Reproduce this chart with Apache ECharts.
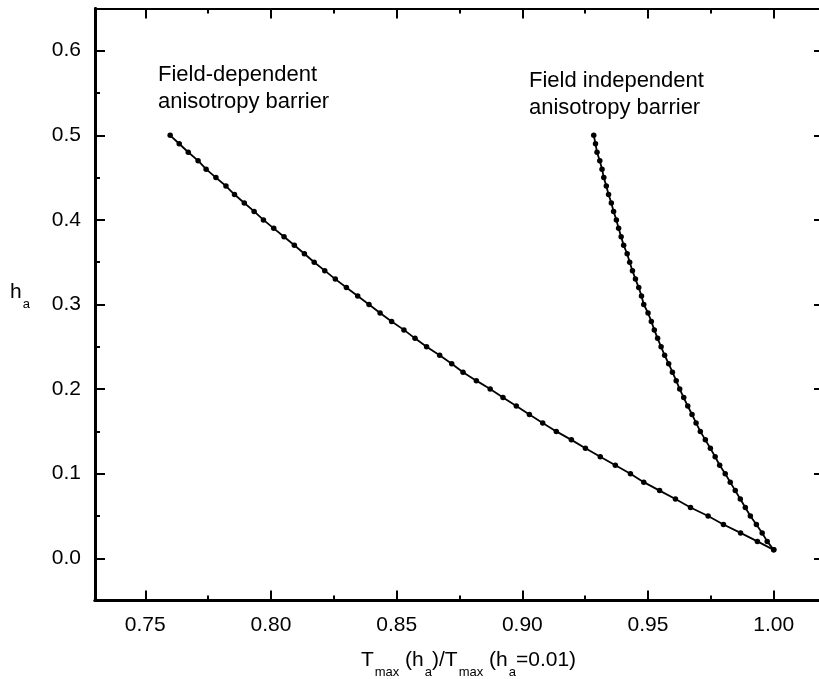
<!DOCTYPE html>
<html>
<head>
<meta charset="utf-8">
<script src="https://cdn.jsdelivr.net/npm/echarts@6/dist/echarts.min.js"></script>
<style>
html,body{margin:0;padding:0;background:#fff;}
#chart{width:819px;height:679px;}
</style>
</head>
<body>
<div id="chart"></div>
<script>
// h_a levels (shared by both curves)
const hLevels = [0.50,0.49,0.48,0.47,0.46,0.45,0.44,0.43,0.42,0.41,0.40,0.39,0.38,0.37,0.36,0.35,0.34,0.33,0.32,0.31,0.30,0.29,0.28,0.27,0.26,0.25,0.24,0.23,0.22,0.21,0.20,0.19,0.18,0.17,0.16,0.15,0.14,0.13,0.12,0.11,0.10,0.09,0.08,0.07,0.06,0.05,0.04,0.03,0.02,0.01];
// Tmax(h_a)/Tmax(h_a=0.01), field-dependent anisotropy barrier
const tFieldDep = [0.7599,0.7635,0.7671,0.7710,0.7742,0.7781,0.7821,0.7855,0.7894,0.7933,0.7970,0.8011,0.8052,0.8093,0.8133,0.8172,0.8214,0.8256,0.8300,0.8345,0.8390,0.8434,0.8480,0.8529,0.8573,0.8619,0.8671,0.8719,0.8764,0.8817,0.8872,0.8923,0.8976,0.9028,0.9081,0.9135,0.9195,0.9251,0.9310,0.9370,0.9430,0.9483,0.9546,0.9609,0.9669,0.9739,0.9800,0.9868,0.9935,1.0000];
// field-independent anisotropy barrier
const tFieldIndep = [0.9284,0.9291,0.9297,0.9308,0.9317,0.9324,0.9334,0.9343,0.9354,0.9363,0.9374,0.9383,0.9393,0.9403,0.9417,0.9427,0.9438,0.9450,0.9463,0.9474,0.9483,0.9500,0.9513,0.9525,0.9538,0.9552,0.9566,0.9582,0.9597,0.9612,0.9626,0.9642,0.9658,0.9675,0.9691,0.9708,0.9728,0.9748,0.9767,0.9785,0.9807,0.9827,0.9847,0.9867,0.9887,0.9907,0.9931,0.9954,0.9974,1.0000];
// tick values
const xMajorTicks = [0.75,0.80,0.85,0.90,0.95,1.00];
const xMinorTicks = [0.775,0.825,0.875,0.925,0.975];
const yMajorTicks = [0.0,0.1,0.2,0.3,0.4,0.5,0.6];
const yMinorTicks = [0.05,0.15,0.25,0.35,0.45,0.55];
const xRange = [0.73, 1.02];
const yRange = [-0.05, 0.65];
const label1 = 'Field-dependent\nanisotropy barrier';
const label2 = 'Field independent\nanisotropy barrier';

const FONT = '"Liberation Sans", Arial, Helvetica, sans-serif';
const INK = '#000';

function xAxisDef(pos, ticks, len, labels) {
  return {
    type: 'value', position: pos, min: xRange[0], max: xRange[1],
    axisLine: {show: true, onZero: false, lineStyle: {color: INK, width: pos === 'bottom' ? 3 : 2.2}},
    axisTick: {show: true, inside: true, length: len, customValues: ticks, lineStyle: {color: INK, width: 2}},
    axisLabel: labels ? {show: true, customValues: ticks, margin: 14, color: INK, fontSize: 21, fontFamily: FONT,
      formatter: v => v.toFixed(2)} : {show: false},
    splitLine: {show: false}
  };
}
function yAxisDef(pos, ticks, len, labels) {
  return {
    type: 'value', position: pos, min: yRange[0], max: yRange[1],
    axisLine: {show: pos === 'left', onZero: false, lineStyle: {color: INK, width: 3}},
    axisTick: {show: true, inside: true, length: len, customValues: ticks, lineStyle: {color: INK, width: 2}},
    axisLabel: labels ? {show: true, customValues: ticks, margin: 14, color: INK, fontSize: 21, fontFamily: FONT,
      formatter: v => v.toFixed(1)} : {show: false},
    splitLine: {show: false}
  };
}

const richTitle = {
  m: {fontSize: 21, fontFamily: FONT, color: INK, lineHeight: 28, verticalAlign: 'top'},
  s: {fontSize: 13, fontFamily: FONT, color: INK, verticalAlign: 'top', padding: [16, 0, 0, 1]}
};

const xAxes = [
  xAxisDef('bottom', xMajorTicks, 10, true),
  xAxisDef('bottom', xMinorTicks, 5, false),
  xAxisDef('top', xMajorTicks, 10, false),
  xAxisDef('top', xMinorTicks, 5, false)
];
xAxes[0].name = '{m|T}{s|max}{m| (h}{s|a}{m|)/T}{s|max}{m| (h}{s|a}{m|=0.01)}';
xAxes[0].nameLocation = 'middle';
xAxes[0].nameGap = 49;
xAxes[0].nameTextStyle = {padding: [0, 0, 0, 18], rich: richTitle};
const yAxes = [
  yAxisDef('left', yMajorTicks, 10, true),
  yAxisDef('left', yMinorTicks, 5, false),
  yAxisDef('right', yMajorTicks, 10, false),
  yAxisDef('right', yMinorTicks, 5, false)
];
yAxes[0].name = '{m|h}{s|a}';
yAxes[0].nameLocation = 'middle';
yAxes[0].nameRotate = 0;
yAxes[0].nameGap = 65;
yAxes[0].nameTextStyle = {padding: [0, 0, 16, 0], rich: richTitle};

const chart = echarts.init(document.getElementById('chart'), null, {renderer: 'canvas'});
const seriesStyle = {
  type: 'line', xAxisIndex: 0, yAxisIndex: 0,
  symbol: 'circle', symbolSize: 5.5, showSymbol: true,
  lineStyle: {color: INK, width: 1.8},
  itemStyle: {color: INK},
  animation: false, clip: false
};
chart.setOption({
  animation: false,
  backgroundColor: '#fff',
  grid: {left: 95, top: 8.4, width: 729, height: 592.2, containLabel: false, outerBoundsMode: 'none'},
  xAxis: xAxes,
  yAxis: yAxes,
  series: [
    Object.assign({name: 'Field-dependent', data: hLevels.map((h, i) => [tFieldDep[i], h])}, seriesStyle),
    Object.assign({name: 'Field independent', data: hLevels.map((h, i) => [tFieldIndep[i], h])}, seriesStyle)
  ],
  graphic: [
    {type: 'text', left: 158, top: 61, style: {text: label1, fill: INK, font: '22px ' + FONT, lineHeight: 27}},
    {type: 'text', left: 529, top: 67, style: {text: label2, fill: INK, font: '22px ' + FONT, lineHeight: 27}}
  ]
});
</script>
</body>
</html>
